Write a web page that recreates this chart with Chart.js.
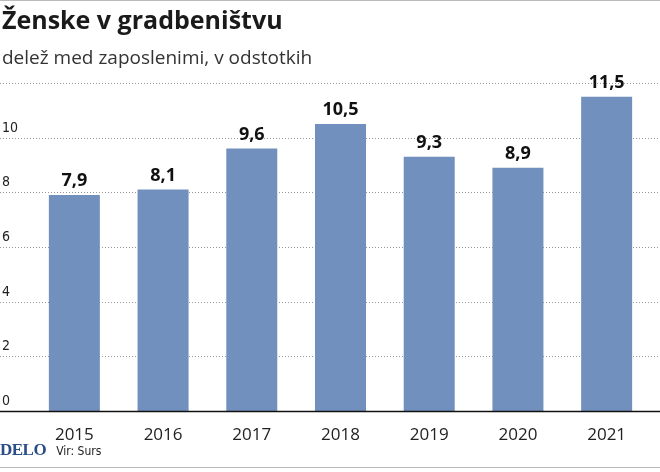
<!DOCTYPE html>
<html>
<head>
<meta charset="utf-8">
<script src="https://cdn.jsdelivr.net/npm/chart.js@4"></script>
<style>
  body { margin: 0; background: #fff; }
  #wrap { position: relative; width: 660px; height: 472px; font-family: 'Open Sans', sans-serif; }
  #chart { position: absolute; left: 0; top: 0; }
  .title { position: absolute; left: 2px; top: 2px; font-size: 25px; font-weight: bold; color: #1a1a1a; }
  .sub { position: absolute; left: 2px; top: 44px; font-size: 19px; color: #333; }
  .foot { position: absolute; left: 0; top: 440px; font-size: 13px; color: #222; }
  .foot b { font-family: 'Liberation Serif', serif; color: #2b4d87; font-size: 17px; margin-right: 10px; letter-spacing: -0.5px; }
  .foot span { font-family: 'DejaVu Sans Condensed', sans-serif; font-size: 12px; }
  .rule { position: absolute; left: 0; width: 660px; height: 1px; background: #bbb; }
</style>
</head>
<body>
<div id="wrap">
  <canvas id="chart" width="660" height="472"></canvas>
  <div class="rule" style="top:0"></div>
  <div class="title">Ženske v gradbeništvu</div>
  <div class="sub">delež med zaposlenimi, v odstotkih</div>
  <div class="foot"><b>DELO</b><span>Vir: Surs</span></div>
  <div class="rule" style="top:467px"></div>
</div>
<script>
const years = ['2015', '2016', '2017', '2018', '2019', '2020', '2021'];
const shares = [7.9, 8.1, 9.6, 10.5, 9.3, 8.9, 11.5];
const yTicks = [0, 2, 4, 6, 8, 10, 12];

// dotted grid across the full width, tick numbers above the lines
const gridPlugin = {
    id: 'gridLines',
    beforeDatasetsDraw(chart) {
        const ctx = chart.ctx;
        const y = chart.scales.y;
        ctx.save();
        yTicks.forEach(v => {
            const py = Math.round(y.getPixelForValue(v)) + 0.5;
            if (v > 0) {
                ctx.strokeStyle = '#999';
                ctx.setLineDash([1, 2]);
                ctx.lineWidth = 1;
                ctx.beginPath();
                ctx.moveTo(0, py);
                ctx.lineTo(660, py);
                ctx.stroke();
            }
            if (v < 12) {
                ctx.fillStyle = '#222';
                ctx.font = "14px 'DejaVu Sans Condensed', sans-serif";
                ctx.textAlign = 'left';
                ctx.textBaseline = 'bottom';
                ctx.fillText(String(v), 2, py - 3);
            }
        });
        ctx.restore();
    },
    afterDatasetsDraw(chart) {
        const ctx = chart.ctx;
        const y = chart.scales.y;
        const py = Math.round(y.getPixelForValue(0)) + 0.5;
        ctx.save();
        ctx.strokeStyle = '#111';
        ctx.lineWidth = 1.5;
        ctx.beginPath();
        ctx.moveTo(0, py);
        ctx.lineTo(660, py);
        ctx.stroke();
        // value labels
        ctx.fillStyle = '#111';
        ctx.font = "bold 18px 'Open Sans', sans-serif";
        ctx.textAlign = 'center';
        ctx.textBaseline = 'bottom';
        chart.getDatasetMeta(0).data.forEach((bar, i) => {
            ctx.fillText(String(shares[i]).replace('.', ','), bar.x, bar.y - 5);
        });
        ctx.restore();
    }
};

new Chart(document.getElementById('chart'), {
    type: 'bar',
    data: {
        labels: years,
        datasets: [{
            data: shares,
            backgroundColor: '#7290bd',
            categoryPercentage: 1,
            barPercentage: 0.575
        }]
    },
    options: {
        responsive: false,
        animation: false,
        layout: { padding: { top: 83, left: 30, right: 9, bottom: 0 } },
        plugins: { legend: { display: false }, tooltip: { enabled: false } },
        scales: {
            x: {
                grid: { display: false },
                border: { display: false },
                ticks: { color: '#222', font: { family: "'Open Sans', sans-serif", size: 17 }, padding: 6 },
                afterFit(scale) { scale.height = 61; }
            },
            y: { display: false, min: 0, max: 12 }
        }
    },
    plugins: [gridPlugin]
});
</script>
</body>
</html>
